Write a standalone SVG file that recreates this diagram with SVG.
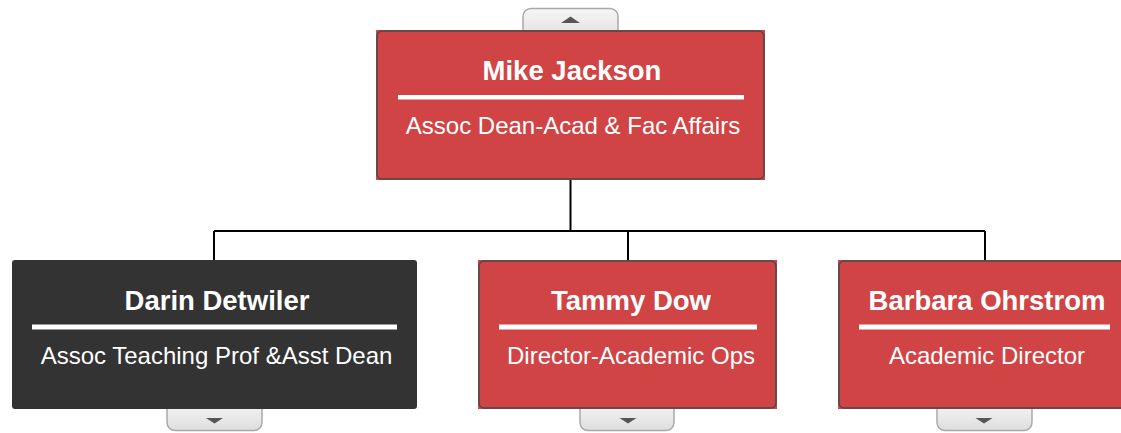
<svg xmlns="http://www.w3.org/2000/svg" width="1121" height="433" viewBox="0 0 1121 433">
<defs>
<linearGradient id="tabg" x1="0" y1="0" x2="0" y2="1">
<stop offset="0" stop-color="#f7f7f7"/>
<stop offset="1" stop-color="#dedede"/>
</linearGradient>
</defs>
<style>
.tab{fill:url(#tabg);stroke:#a9a9a9;stroke-width:1.5}
.tri{fill:#555555}
.red{fill:#d04445}
.dark{fill:#333333}
.bord{fill:none;stroke:#4a4a4a;stroke-width:1.5}
.bar{fill:#ffffff}
.name{font-family:"Liberation Sans",Arial,sans-serif;font-weight:bold;font-size:27.5px;fill:#ffffff;text-anchor:middle}
.title{font-family:"Liberation Sans",Arial,sans-serif;font-size:24px;fill:#ffffff;text-anchor:middle}
.conn{fill:none;stroke:#000000;stroke-width:2}
</style>
<rect width="1121" height="433" fill="#ffffff"/>
<g id="connectors">
<path class="conn" d="M570.5 180 V231 M214 231 H985 M214 231 V260 M628 231 V260 M985 231 V260"/>
</g>
<g id="node-mike-jackson">
<rect class="tab" x="523" y="8.5" width="95" height="30" rx="8"/>
<polygon class="tri" points="561,23 580,23 570.5,16.5"/>
<rect class="red" x="376" y="30" width="389" height="150"/>
<rect class="bord" x="377" y="31" width="387" height="148" rx="5"/>
<text class="name" x="572" y="80">Mike Jackson</text>
<rect class="bar" x="398" y="95" width="346" height="4.5"/>
<text class="title" x="573" y="134">Assoc Dean-Acad &amp; Fac Affairs</text>
</g>
<g id="node-darin-detwiler">
<rect class="tab" x="167" y="400" width="95" height="30.5" rx="8"/>
<polygon class="tri" points="206,418 223,418 214.5,423.5"/>
<rect class="dark" x="12" y="260" width="405" height="149" rx="3"/>
<text class="name" x="217" y="310">Darin Detwiler</text>
<rect class="bar" x="32" y="324.5" width="365" height="5"/>
<text class="title" x="216.5" y="364">Assoc Teaching Prof &amp;Asst Dean</text>
</g>
<g id="node-tammy-dow">
<rect class="tab" x="580" y="400" width="94" height="30.5" rx="8"/>
<polygon class="tri" points="619.5,418 636.5,418 628,423.5"/>
<rect class="red" x="478" y="260" width="299" height="149"/>
<rect class="bord" x="479" y="261" width="297" height="147" rx="5"/>
<text class="name" x="631" y="310">Tammy Dow</text>
<rect class="bar" x="499" y="324.5" width="258" height="5"/>
<text class="title" x="631" y="364">Director-Academic Ops</text>
</g>
<g id="node-barbara-ohrstrom">
<rect class="tab" x="937" y="400" width="95" height="30.5" rx="8"/>
<polygon class="tri" points="975.5,418 992.5,418 984,423.5"/>
<rect class="red" x="838" y="260" width="298" height="149"/>
<rect class="bord" x="839" y="261" width="296" height="147" rx="5"/>
<text class="name" x="987" y="310">Barbara Ohrstrom</text>
<rect class="bar" x="859" y="324.5" width="251" height="5"/>
<text class="title" x="987" y="364">Academic Director</text>
</g>
</svg>
